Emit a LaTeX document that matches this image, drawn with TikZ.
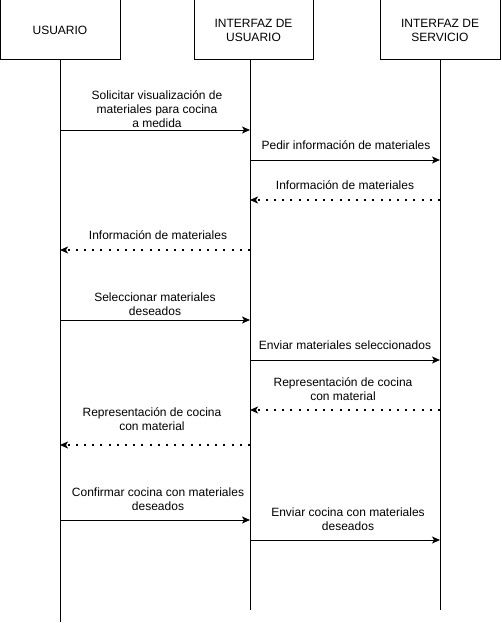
\documentclass[tikz,border=0pt]{standalone}
\usepackage{fontspec}
\setmainfont{Liberation Sans}
\usetikzlibrary{arrows.meta}
\tikzset{
	actor/.style={draw, line width=1pt, minimum width=120pt, minimum height=60pt, align=center, inner sep=0pt, font=\fontsize{12}{14}\selectfont},
	life/.style={line width=1pt},
	msg/.style={line width=1pt, -{Stealth[length=8pt,width=7pt,inset=2pt]}},
	reply/.style={msg, line width=1.3pt, dash pattern=on 2pt off 6.2pt},
	lbl/.style={align=center, inner sep=0pt, font=\fontsize{12}{14}\selectfont}
}

\begin{document}
\begin{tikzpicture}[x=1pt, y=-1pt]
		%%%%% START %%%%%
		\useasboundingbox (0, 0) rectangle (501, 623);
		
		\node[actor] (usr) at (60, 30) {USUARIO};
		\node[actor, minimum width=119pt] (iu) at (253.5, 30) {INTERFAZ DE\\USUARIO};
		\node[actor] (is) at (440, 30) {INTERFAZ DE\\SERVICIO};
		
		\coordinate (usrEnd) at (60, 622);
		\coordinate (iuTop) at (250, 60);
		\coordinate (iuEnd) at (250, 610);
		\coordinate (isEnd) at (440, 610);
		
		\draw[life] (usr.south) -- (usrEnd);
		\draw[life] (iuTop) -- (iuEnd);
		\draw[life] (is.south) -- (isEnd);
		
		\coordinate (u1) at (60, 130);   \coordinate (i1) at (250, 130);
		\coordinate (i2) at (250, 160);  \coordinate (s2) at (440, 160);
		\coordinate (s3) at (440, 200);  \coordinate (i3) at (250, 200);
		\coordinate (i4) at (250, 250);  \coordinate (u4) at (60, 250);
		\coordinate (u5) at (60, 320);   \coordinate (i5) at (250, 320);
		\coordinate (i6) at (250, 360);  \coordinate (s6) at (440, 360);
		\coordinate (s7) at (440, 410);  \coordinate (i7) at (250, 410);
		\coordinate (i8) at (250, 445);  \coordinate (u8) at (60, 445);
		\coordinate (u9) at (60, 520);   \coordinate (i9) at (250, 520);
		\coordinate (i10) at (250, 540); \coordinate (s10) at (440, 540);
		
		\draw[msg] (u1) -- (i1);
		\node[lbl] (l1) at (157, 109) {Solicitar visualización de\\materiales para cocina\\a medida};
		
		\draw[msg] (i2) -- (s2);
		\node[lbl] (l2) at (346, 145) {Pedir información de materiales};
		
		\draw[reply] (s3) -- (i3);
		\node[lbl] (l3) at (345, 185) {Información de materiales};
		
		\draw[reply] (i4) -- (u4);
		\node[lbl] (l4) at (158, 235) {Información de materiales};
		
		\draw[msg] (u5) -- (i5);
		\node[lbl] (l5) at (155, 304) {Seleccionar materiales\\deseados};
		
		\draw[msg] (i6) -- (s6);
		\node[lbl] (l6) at (345, 345) {Enviar materiales seleccionados};
		
		\draw[reply] (s7) -- (i7);
		\node[lbl] (l7) at (343, 389) {Representación de cocina\\con material};
		
		\draw[reply] (i8) -- (u8);
		\node[lbl] (l8) at (152, 419) {Representación de cocina\\con material};
		
		\draw[msg] (u9) -- (i9);
		\node[lbl] (l9) at (158, 499) {Confirmar cocina con materiales\\deseados};
		
		\draw[msg] (i10) -- (s10);
		\node[lbl] (l10) at (348, 519) {Enviar cocina con materiales\\deseados};
		
		%%%%% END %%%%%
	\end{tikzpicture}
\end{document}
